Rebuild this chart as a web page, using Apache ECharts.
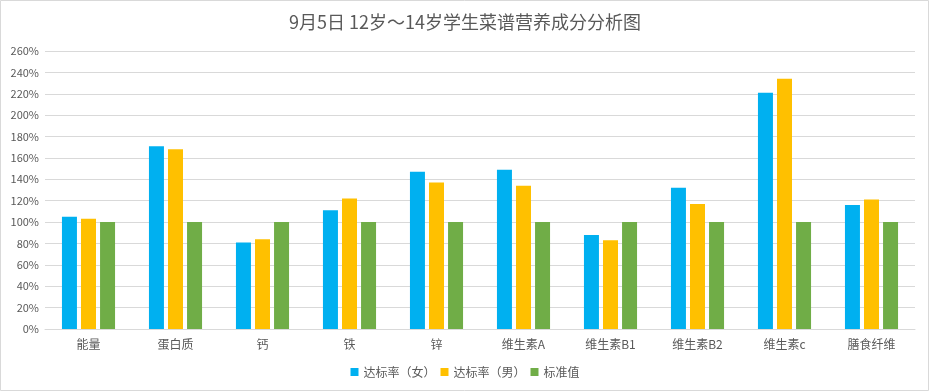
<!DOCTYPE html>
<html><head><meta charset="utf-8">
<script src="https://cdn.jsdelivr.net/npm/echarts@6/dist/echarts.min.js"></script>
<style>html,body{margin:0;padding:0;background:#fff}#c{width:930px;height:392px}</style>
</head><body><div id="c"></div>
<script>
const categories = ['能量','蛋白质','钙','铁','锌','维生素A','维生素B1','维生素B2','维生素c','膳食纤维'];
const female = [105,171,81,111,147,149,88,132,221,116];
const male = [103,168,84,122,137,134,83,117,234,121];
const standard = [100,100,100,100,100,100,100,100,100,100];
const seriesNames = ['达标率（女）','达标率（男）','标准值'];
const titleText = '9月5日 12岁～14岁学生菜谱营养成分分析图';

const font = '"Microsoft YaHei","Noto Sans CJK SC","Liberation Sans",sans-serif';
const chart = echarts.init(document.getElementById('c'), null, {renderer:'canvas'});
chart.setOption({
  animation:false,
  backgroundColor:'#fff',
  title:{text:titleText,left:'center',top:8,textStyle:{fontSize:18,fontWeight:'normal',color:'#595959',fontFamily:font}},
  graphic:[{type:'rect',shape:{x:0.5,y:0.5,width:928,height:390},style:{fill:null,stroke:'#d9d9d9',lineWidth:1},silent:true}],
  legend:{bottom:9,left:'center',itemWidth:8,itemHeight:8,itemGap:5,icon:'rect',
    textStyle:{fontSize:12,color:'#595959',fontFamily:font},data:seriesNames},
  grid:{left:45,right:15,top:51,bottom:63,containLabel:false},
  xAxis:{type:'category',data:categories,
    axisLine:{lineStyle:{color:'#d9d9d9'}},axisTick:{show:false},
    axisLabel:{fontSize:12,color:'#595959',margin:9,fontFamily:font}},
  yAxis:{type:'value',min:0,max:260,interval:20,
    axisLabel:{formatter:'{value}%',fontSize:11,color:'#595959',fontFamily:font,margin:6},
    splitLine:{lineStyle:{color:'#d9d9d9'}},axisLine:{show:false},axisTick:{show:false}},
  series:[
    {name:seriesNames[0],type:'bar',data:female,barWidth:15,barGap:'27%',itemStyle:{color:'#00b0f0'}},
    {name:seriesNames[1],type:'bar',data:male,barWidth:15,barGap:'27%',itemStyle:{color:'#ffc000'}},
    {name:seriesNames[2],type:'bar',data:standard,barWidth:15,barGap:'27%',itemStyle:{color:'#70ad47'}}
  ]
});
</script></body></html>
